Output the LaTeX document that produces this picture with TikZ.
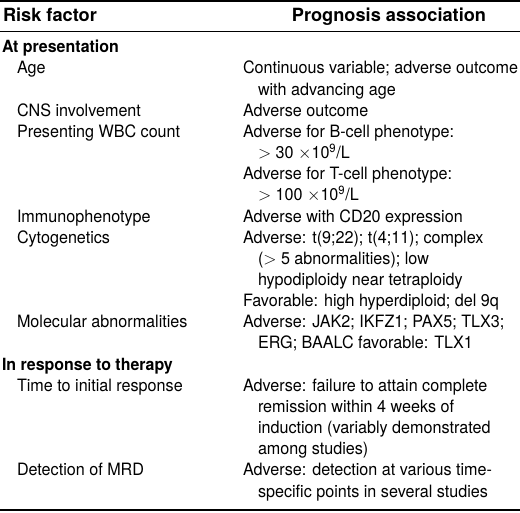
\documentclass[tikz,border=0pt]{standalone}
\usepackage{fontspec}
\setmainfont{TeX Gyre Heros}[FakeStretch=0.95]
\newfontfamily\hdrfont{TeX Gyre Heros}
\begin{document}
\begin{tikzpicture}[x=1pt,y=-1pt,
  every node/.style={inner sep=0pt,outer sep=0pt,anchor=base west,font=\fontsize{17}{21}\selectfont},
  hdr/.style={font=\hdrfont\fontsize{18.2}{21}\selectfont\bfseries},
  sect/.style={font=\fontsize{16.8}{21}\selectfont\bfseries},
  toprule/.style={line width=1.6pt,black},
  midrule/.style={line width=0.8pt,black},
  botrule/.style={line width=1.8pt,black}]
\useasboundingbox (0,0) rectangle (520,513);
\def\L{17}      % left item x
\def\R{243}     % right column x
\def\RI{258}    % right continuation x
\def\B{74}      % baseline of first item line
\def\P{21.15}   % line pitch
% rules
\coordinate (t1) at (0,1); \coordinate (t2) at (520,1);
\coordinate (m1) at (0,31); \coordinate (m2) at (520,31);
\coordinate (b1) at (0,510); \coordinate (b2) at (520,510);
\draw[toprule] (t1) -- (t2);
\draw[midrule] (m1) -- (m2);
\draw[botrule] (b1) -- (b2);
% header
\node[hdr] (h1) at (3,22) {Risk factor};
\node[hdr,anchor=base] (h2) at (389,22) {Prognosis association};
% sections
\node[sect] (s1) at (2,53) {At presentation};
\node[sect] (s2) at (2,{\B+\P*14}) {In response to therapy};
% left column
\node (l0) at (\L,{\B+\P*0}) {Age};
\node (l2) at (\L,{\B+\P*2}) {CNS involvement};
\node (l3) at (\L,{\B+\P*3}) {Presenting WBC count};
\node (l7) at (\L,{\B+\P*7}) {Immunophenotype};
\node (l8) at (\L,{\B+\P*8}) {Cytogenetics};
\node (l12) at (\L,{\B+\P*12}) {Molecular abnormalities};
\node (l15) at (\L,{\B+\P*15}) {Time to initial response};
\node (l19) at (\L,{\B+\P*19}) {Detection of MRD};
% right column
\node (r0) at (\R,{\B+\P*0}) {Continuous variable; adverse outcome};
\node (r1) at (\RI,{\B+\P*1}) {with advancing age};
\node (r2) at (\R,{\B+\P*2}) {Adverse outcome};
\node (r3) at (\R,{\B+\P*3}) {Adverse for B-cell phenotype:};
\node (r4) at (\RI,{\B+\P*4}) {$>$ 30 $\times$10\textsuperscript{9}/L};
\node (r5) at (\R,{\B+\P*5}) {Adverse for T-cell phenotype:};
\node (r6) at (\RI,{\B+\P*6}) {$>$ 100 $\times$10\textsuperscript{9}/L};
\node (r7) at (\R,{\B+\P*7}) {Adverse with CD20 expression};
\node (r8) at (\R,{\B+\P*8}) {Adverse: t(9;22); t(4;11); complex};
\node (r9) at (\RI,{\B+\P*9}) {($>$ 5 abnormalities); low};
\node (r10) at (\RI,{\B+\P*10}) {hypodiploidy near tetraploidy};
\node (r11) at (\R,{\B+\P*11}) {Favorable: high hyperdiploid; del 9q};
\node (r12) at (\R,{\B+\P*12}) {Adverse: JAK2; IKFZ1; PAX5; TLX3;};
\node (r13) at (\RI,{\B+\P*13}) {ERG; BAALC favorable: TLX1};
\node (r15) at (\R,{\B+\P*15}) {Adverse: failure to attain complete};
\node (r16) at (\RI,{\B+\P*16}) {remission within 4 weeks of};
\node (r17) at (\RI,{\B+\P*17}) {induction (variably demonstrated};
\node (r18) at (\RI,{\B+\P*18}) {among studies)};
\node (r19) at (\R,{\B+\P*19}) {Adverse: detection at various time-};
\node (r20) at (\RI,{\B+\P*20}) {specific points in several studies};
\end{tikzpicture}
\end{document}
